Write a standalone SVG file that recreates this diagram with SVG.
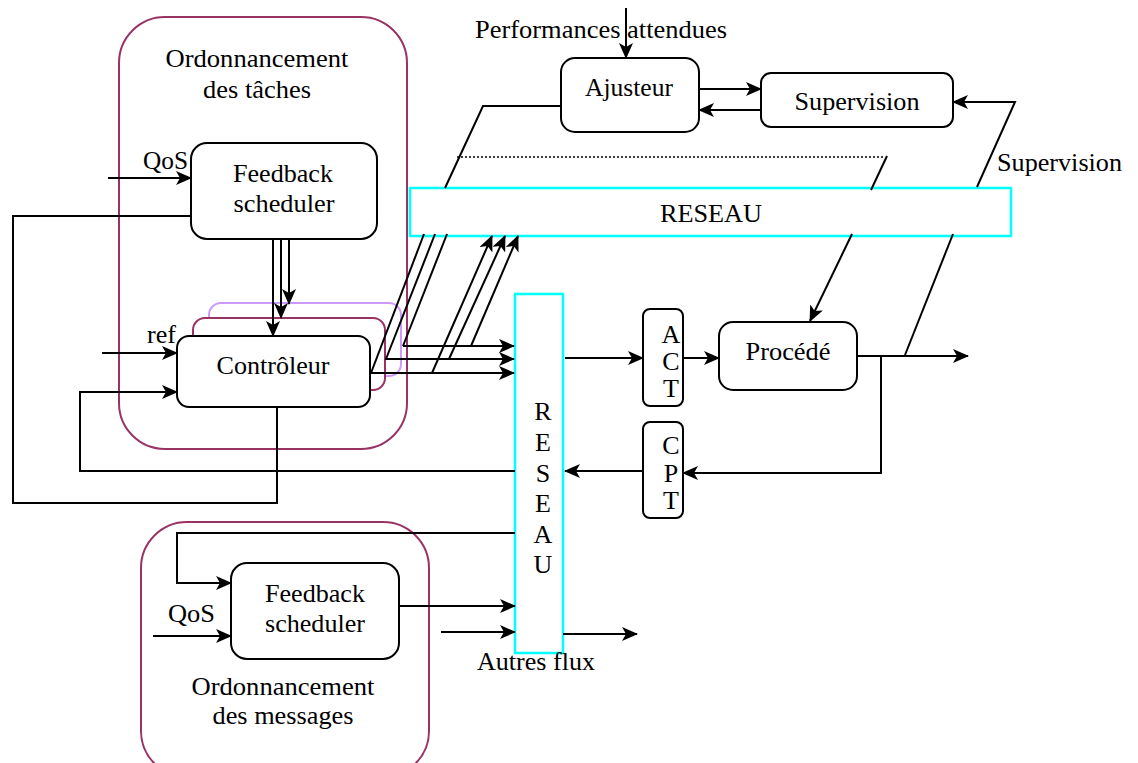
<svg xmlns="http://www.w3.org/2000/svg" width="1138" height="763" viewBox="0 0 1138 763">
<style>
text{font-family:'Liberation Serif','Times New Roman',Times,serif;font-size:26px;fill:#000}
.c{text-anchor:middle}
.box{fill:#fff;stroke:#000;stroke-width:2}
.grp{fill:none;stroke:#993366;stroke-width:2}
.net{fill:#fff;stroke:#00ffff;stroke-width:2.5}
.ln{fill:none;stroke:#000;stroke-width:2}
.ar{marker-end:url(#arr)}
.dot{fill:none;stroke:#000;stroke-width:1.5;stroke-dasharray:2 2}
</style>
<defs>
<marker id="arr" markerUnits="userSpaceOnUse" markerWidth="16" markerHeight="14" viewBox="0 0 16 14" refX="15" refY="7" orient="auto">
<path d="M0,0 L16,7 L0,14 L4,7 Z" fill="#000"/>
</marker>
</defs>
<rect width="1138" height="763" fill="#fff"/>

<g id="ordo-taches">
<rect class="grp" x="119" y="17" width="288" height="432" rx="46"/>
<text class="c" x="257" y="67" textLength="183" lengthAdjust="spacingAndGlyphs">Ordonnancement</text>
<text class="c" x="257" y="98" textLength="108" lengthAdjust="spacingAndGlyphs">des tâches</text>
</g>
<g id="ordo-messages">
<rect class="grp" x="141" y="522" width="288" height="255" rx="46"/>
<text class="c" x="283" y="695" textLength="183" lengthAdjust="spacingAndGlyphs">Ordonnancement</text>
<text class="c" x="283" y="724" textLength="141" lengthAdjust="spacingAndGlyphs">des messages</text>
</g>

<g id="feedback-taches">
<rect class="box" x="191" y="143" width="186" height="96" rx="16"/>
<text class="c" x="283" y="182" textLength="100" lengthAdjust="spacingAndGlyphs">Feedback</text>
<text class="c" x="284" y="212" textLength="101" lengthAdjust="spacingAndGlyphs">scheduler</text>
</g>

<g id="controleur">
<rect x="209" y="303" width="192" height="73" rx="12" fill="#fff" stroke="#cc99ff" stroke-width="2"/>
<rect x="193" y="318" width="192" height="72" rx="12" fill="#fff" stroke="#993366" stroke-width="2"/>
<rect class="box" x="177" y="336" width="193" height="71" rx="12"/>
<text class="c" x="273" y="374" textLength="113" lengthAdjust="spacingAndGlyphs">Contrôleur</text>
</g>

<g id="feedback-messages">
<rect class="box" x="231" y="563" width="168" height="96" rx="16"/>
<text class="c" x="315" y="602" textLength="100" lengthAdjust="spacingAndGlyphs">Feedback</text>
<text class="c" x="315" y="632" textLength="100" lengthAdjust="spacingAndGlyphs">scheduler</text>
</g>

<g id="ajusteur">
<rect class="box" x="561" y="58" width="138" height="74" rx="14"/>
<text class="c" x="629" y="96" textLength="88" lengthAdjust="spacingAndGlyphs">Ajusteur</text>
</g>

<g id="supervision">
<rect class="box" x="761" y="73" width="192" height="54" rx="10"/>
<text class="c" x="857" y="110" textLength="125" lengthAdjust="spacingAndGlyphs">Supervision</text>
</g>

<g id="reseau-h">
<rect class="net" x="410" y="188" width="601" height="48"/>
<text class="c" x="711" y="222" textLength="102" lengthAdjust="spacingAndGlyphs">RESEAU</text>
</g>

<g id="reseau-v">
<rect class="net" x="515" y="294" width="48" height="359"/>
<text class="c" x="543" y="420">R</text>
<text class="c" x="543" y="451">E</text>
<text class="c" x="543" y="482">S</text>
<text class="c" x="543" y="512">E</text>
<text class="c" x="543" y="543">A</text>
<text class="c" x="543" y="573">U</text>
</g>

<g id="act">
<rect class="box" x="643" y="309" width="40" height="97" rx="7"/>
<text class="c" x="671" y="343">A</text>
<text class="c" x="671" y="370">C</text>
<text class="c" x="671" y="397">T</text>
</g>

<g id="cpt">
<rect class="box" x="643" y="422" width="40" height="96" rx="7"/>
<text class="c" x="671" y="454">C</text>
<text class="c" x="671" y="482">P</text>
<text class="c" x="671" y="509">T</text>
</g>

<g id="procede">
<rect class="box" x="719" y="322" width="138" height="68" rx="14"/>
<text class="c" x="788" y="360" textLength="85" lengthAdjust="spacingAndGlyphs">Procédé</text>
</g>

<g id="labels">
<text x="143" y="169" textLength="45" lengthAdjust="spacingAndGlyphs">QoS</text>
<text x="147" y="343" textLength="29" lengthAdjust="spacingAndGlyphs">ref</text>
<text x="168" y="622" textLength="47" lengthAdjust="spacingAndGlyphs">QoS</text>
<text x="475" y="38" textLength="252" lengthAdjust="spacingAndGlyphs">Performances attendues</text>
<text x="997" y="171" textLength="125" lengthAdjust="spacingAndGlyphs">Supervision</text>
<text x="477" y="670" textLength="118" lengthAdjust="spacingAndGlyphs">Autres flux</text>
</g>

<g id="connectors">
<path class="ln ar" d="M108,178 H191"/>
<path class="ln" d="M191,216 H13 V503 H277 V407"/>
<path class="ln ar" d="M273,239 V336"/>
<path class="ln ar" d="M281,239 V318"/>
<path class="ln ar" d="M289,239 V304"/>
<path class="ln ar" d="M102,353 H177"/>
<path class="ln ar" d="M515,471 H80 V392 H177"/>
<path class="ln ar" d="M565,358 H643"/>
<path class="ln ar" d="M683,358 H719"/>
<path class="ln ar" d="M857,356 H968"/>
<path class="ln ar" d="M881,356 V473 H683"/>
<path class="ln ar" d="M643,471 H565"/>
<path class="ln" d="M905,355 L953,234"/>
<path class="ln ar" d="M977,187 L1015,102 H953"/>
<path class="dot" d="M457,157 H885"/>
<path class="ln" d="M887,156 L871,190"/>
<path class="ln ar" d="M852,234 L810,321"/>
<path class="ln" d="M561,106 H483 L445,188"/>
<path class="ln ar" d="M626,8 V58"/>
<path class="ln ar" d="M699,89 H761"/>
<path class="ln ar" d="M761,110 H699"/>
<path class="ln ar" d="M371,373 H514"/>
<path class="ln ar" d="M385,359 H514"/>
<path class="ln ar" d="M403,346 H514"/>
<path class="ln" d="M371,373 L424,234"/>
<path class="ln" d="M386,359 L435,234"/>
<path class="ln" d="M403,346 L447,234"/>
<path class="ln ar" d="M432,373 L492,236"/>
<path class="ln ar" d="M449,359 L505,236"/>
<path class="ln ar" d="M471,346 L518,236"/>
<path class="ln ar" d="M515,533 H177 V583 H231"/>
<path class="ln ar" d="M153,636 H231"/>
<path class="ln ar" d="M399,606 H515"/>
<path class="ln ar" d="M441,632 H515"/>
<path class="ln ar" d="M563,634 H637"/>
</g>
</svg>
